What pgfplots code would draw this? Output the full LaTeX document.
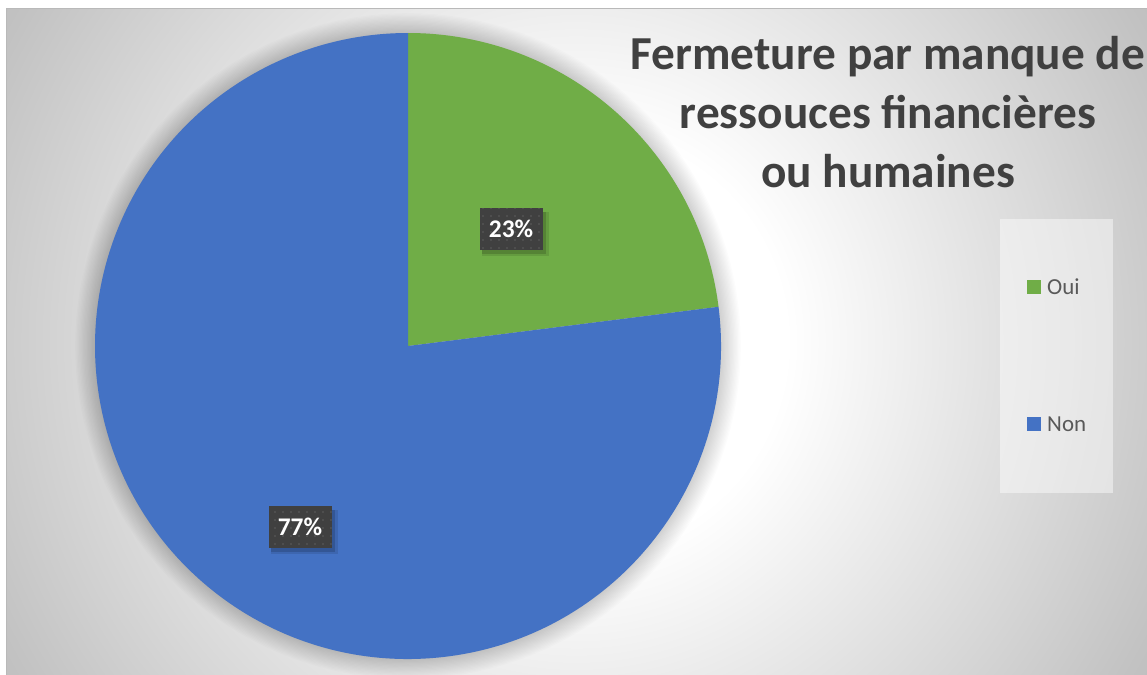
\documentclass[border=0pt]{standalone}
\usepackage{fontspec}
\setmainfont{Carlito}
\usepackage{pgfplots}
\usepackage{pgfplotstable}
\pgfplotsset{compat=1.18}
\usetikzlibrary{patterns.meta,calc}

\definecolor{pieGreen}{HTML}{70AD47}
\definecolor{pieBlue}{HTML}{4472C4}
\definecolor{titleGray}{HTML}{404040}
\definecolor{legGray}{HTML}{595959}
\definecolor{lblBox}{HTML}{404040}
\definecolor{lblDot}{HTML}{5E5E5E}
\definecolor{bgMid}{HTML}{C2C2C2}
\definecolor{bgOuter}{HTML}{BCBCBC}

% pgf maps the central 50bp x 50bp of a shading onto the path's bounding box
\pgfdeclareradialshading{chartbg}{\pgfpoint{0bp}{0bp}}{%
  color(0bp)=(white); color(7.5bp)=(white); color(23bp)=(bgMid); color(25bp)=(bgOuter); color(50bp)=(bgOuter)}

\pgfplotstableread{
label value
Oui 23
Non 77
}\piedata

\pgfplotstablegetelem{0}{value}\of\piedata \edef\vA{\pgfplotsretval}
\pgfplotstablegetelem{1}{value}\of\piedata \edef\vB{\pgfplotsretval}
\pgfmathsetmacro\aStart{90}
\pgfmathsetmacro\aA{90-3.6*\vA}
\pgfmathsetmacro\aB{\aA-3.6*\vB}

\newcommand\datalabel[3]{%
  \fill[black, opacity=0.10] ($(axis cs:#1,#2)+(4bp,-5bp)$) +(-33.5bp,-22bp) rectangle +(33.5bp,22bp);
  \fill[black, opacity=0.15] ($(axis cs:#1,#2)+(3bp,-4bp)$) +(-32bp,-21bp) rectangle +(32bp,21bp);
  \fill[lblBox] (axis cs:#1,#2) +(-31.5bp,-21bp) rectangle +(31.5bp,21bp);
  \fill[pattern={Dots[distance=8bp, radius=0.9bp, xshift=3bp, yshift=3bp]}, pattern color=lblDot] (axis cs:#1,#2) +(-31.5bp,-21bp) rectangle +(31.5bp,21bp);
  \node[text=white, font=\fontsize{25.5}{30}\selectfont\bfseries, inner sep=0pt] at (axis cs:#1,#2) {#3};
}

\begin{document}
\begin{tikzpicture}
\begin{axis}[
  width=1147bp, height=675bp, scale only axis,
  xmin=0, xmax=1147, ymin=0, ymax=675, y dir=reverse,
  hide axis, clip=false]
% chart area background
\begin{scope}
\clip (axis cs:6,9) rectangle (axis cs:1147,675);
\shade[shading=chartbg] (axis cs:576,342) circle[radius=700bp];
\end{scope}
\draw[line width=1bp, gray!55] (axis cs:6,675) -- (axis cs:6,9) -- (axis cs:1147,9);
% pie soft shadow
\pgfplotsinvokeforeach{1,...,16}{
  \fill[black, opacity=0.011] (axis cs:408,346) circle[radius=312bp+1.3bp*#1];
}
% pie sectors
\fill[pieGreen] (axis cs:408,346) -- ++(\aStart:313bp) arc[start angle=\aStart, end angle=\aA, radius=313bp] -- cycle;
\fill[pieBlue] (axis cs:408,346) -- ++(\aA:313bp) arc[start angle=\aA, end angle=\aB, radius=313bp] -- cycle;
% data labels
\datalabel{511}{229}{23\%}
\datalabel{300}{527}{77\%}
% title
\node[anchor=base, text=titleGray, font=\fontsize{47.5}{58}\selectfont\bfseries, inner sep=0pt] at (axis cs:888,70) {Fermeture par manque de};
\node[anchor=base, text=titleGray, font=\fontsize{47.5}{58}\selectfont\bfseries, inner sep=0pt] at (axis cs:888,128.5) {ressouces financières};
\node[anchor=base, text=titleGray, font=\fontsize{47.5}{58}\selectfont\bfseries, inner sep=0pt] at (axis cs:888,187) {ou humaines};
% legend
\fill[white, opacity=0.45] (axis cs:1000,219) rectangle (axis cs:1113,493);
\fill[pieGreen] (axis cs:1027,280) rectangle (axis cs:1041,294);
\fill[pieBlue] (axis cs:1027,417) rectangle (axis cs:1041,431);
\node[anchor=base west, text=legGray, font=\fontsize{23}{28}\selectfont, inner sep=0pt] at (axis cs:1047,294) {Oui};
\node[anchor=base west, text=legGray, font=\fontsize{23}{28}\selectfont, inner sep=0pt] at (axis cs:1047,431) {Non};
\end{axis}
\pgfresetboundingbox
\path[use as bounding box] (current axis.south west) rectangle (current axis.north east);
\end{tikzpicture}
\end{document}
